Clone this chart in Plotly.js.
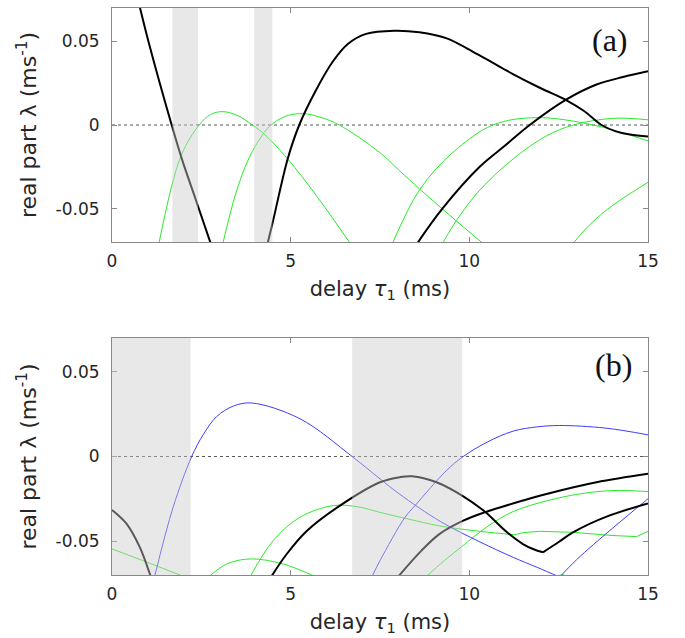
<!DOCTYPE html>
<html>
<head>
<meta charset="utf-8">
<script src="https://cdn.plot.ly/plotly-3.0.1.min.js"></script>
<style>html,body{margin:0;padding:0;background:#fff;}#chart{width:685px;height:638px;}</style>
</head>
<body>
<div id="chart"></div>
<script>
// ---------- axis ticks ----------
const xTickVals = [0, 5, 10, 15];
const xTickText = ["0", "5", "10", "15"];
const yTickVals = [-0.05, 0, 0.05];
const yTickText = ["-0.05", "0", "0.05"];

// ---------- shaded delay intervals ----------
const aShadeStart = [1.69, 3.98];
const aShadeEnd   = [2.41, 4.49];
const bShadeStart = [0.0, 6.72];
const bShadeEnd   = [2.2, 9.8];

// ---------- panel (a) ----------
const a_k1_x = [0.74, 1.02, 1.67, 1.95, 2.35, 2.78];
const a_k1_y = [0.074, 0.050, 0.000, -0.020, -0.045, -0.072];
const a_k2_x = [4.33, 4.50, 4.92, 5.24, 5.70, 6.18, 6.60, 7.11, 7.90, 8.60, 9.35, 10.30, 11.22, 12.00, 12.72, 13.20, 13.70, 14.10, 14.50, 15.00];
const a_k2_y = [-0.073, -0.058, -0.020, 0.000, 0.0205, 0.038, 0.0485, 0.0545, 0.0564, 0.0555, 0.052, 0.0415, 0.0305, 0.022, 0.0148, 0.0085, 0.000, -0.0038, -0.0057, -0.0069];
const a_k3_x = [8.53, 9.24, 10.29, 11.00, 11.69, 12.72, 13.56, 14.30, 15.00];
const a_k3_y = [-0.0712, -0.0502, -0.025, -0.0123, 0.000, 0.0153, 0.0242, 0.0287, 0.0321];
const a_g1_x = [1.31, 1.93, 2.44, 2.75, 3.09, 3.50, 3.93, 4.24, 4.92, 5.71, 6.68];
const a_g1_y = [-0.0712, -0.0185, 0.000, 0.0062, 0.008, 0.0058, 0.000, -0.0051, -0.0204, -0.042, -0.0712];
const a_g2_x = [3.10, 3.45, 3.84, 4.26, 4.45, 4.85, 5.34, 5.85, 6.36, 7.49, 8.05, 8.61, 9.45, 10.40];
const a_g2_y = [-0.0712, -0.042, -0.0194, -0.0045, 0.000, 0.0052, 0.0068, 0.0045, 0.000, -0.0164, -0.0274, -0.0383, -0.054, -0.0712];
const a_g3_x = [7.84, 8.61, 9.54, 10.66, 11.88, 13.47, 15.00];
const a_g3_y = [-0.0712, -0.0387, -0.0164, 0.000, 0.0044, 0.000, -0.0095];
const a_g4_x = [9.24, 9.64, 10.29, 11.22, 12.16, 12.91, 14.03, 15.00];
const a_g4_y = [-0.0712, -0.0571, -0.039, -0.0204, -0.0065, 0.000, 0.004, 0.0031];
const a_g5_x = [12.89, 13.40, 14.03, 15.00];
const a_g5_y = [-0.0712, -0.059, -0.0478, -0.0343];

// ---------- panel (b) ----------
const b_k1_x = [0.00, 0.41, 0.78, 1.06, 1.09];
const b_k1_y = [-0.0316, -0.0398, -0.0537, -0.0694, -0.0712];
const b_k2a_x = [4.45, 4.89, 5.45, 6.38, 7.50, 8.06, 8.40, 9.08, 9.83, 10.43, 11.04, 11.50, 11.80, 12.06];
const b_k2a_y = [-0.0712, -0.0576, -0.044, -0.029, -0.0152, -0.0122, -0.0117, -0.0152, -0.0235, -0.0325, -0.0445, -0.0517, -0.0548, -0.0566];
const b_k2b_x = [12.06, 12.50, 12.90, 13.84, 15.00];
const b_k2b_y = [-0.0566, -0.0505, -0.0448, -0.0355, -0.0278];
const b_k3_x = [8.00, 8.66, 9.17, 9.83, 10.43, 11.50, 12.16, 13.56, 15.00];
const b_k3_y = [-0.0712, -0.0556, -0.0457, -0.0379, -0.033, -0.026, -0.0221, -0.0152, -0.0102];
const b_b1a_x = [1.19, 1.71, 2.23, 2.55, 2.93, 3.40, 3.91, 5.26, 6.72, 7.50, 8.04, 9.20, 10.30, 11.23, 11.90, 12.53];
const b_b1a_y = [-0.0712, -0.030, 0.000, 0.0128, 0.0236, 0.0298, 0.0316, 0.0223, 0.000, -0.0132, -0.0221, -0.0385, -0.0505, -0.0596, -0.0655, -0.0712];
const b_b1b_x = [12.53, 13.00, 14.00, 15.00];
const b_b1b_y = [-0.0712, -0.061, -0.0425, -0.025];
const b_b2_x = [7.27, 7.50, 8.20, 8.48, 9.36, 9.83, 10.50, 11.23, 11.90, 12.53, 13.80, 15.00];
const b_b2_y = [-0.0712, -0.0615, -0.0359, -0.029, -0.0083, 0.000, 0.0085, 0.0150, 0.0175, 0.0183, 0.0168, 0.0128];
const b_g1_x = [0.00, 1.00, 1.97];
const b_g1_y = [-0.0546, -0.0626, -0.0706];
const b_g2_x = [2.70, 3.21, 3.88, 4.79, 5.72];
const b_g2_y = [-0.0712, -0.0635, -0.0605, -0.0635, -0.0712];
const b_g3a_x = [3.86, 4.51, 5.26, 6.19, 6.90, 7.50, 8.30, 9.17, 10.29, 11.27];
const b_g3a_y = [-0.0712, -0.0497, -0.0359, -0.029, -0.0298, -0.033, -0.037, -0.041, -0.0442, -0.0462];
const b_g3b_x = [11.27, 11.50, 11.97, 12.90, 14.02, 14.68, 15.00];
const b_g3b_y = [-0.0462, -0.045, -0.0442, -0.0448, -0.0467, -0.0473, -0.0442];
const b_g4_x = [8.78, 9.30, 9.83, 10.50, 11.23, 12.20, 13.09, 14.02, 15.00];
const b_g4_y = [-0.0712, -0.0615, -0.0525, -0.0415, -0.0325, -0.026, -0.0221, -0.0201, -0.0207];
const b_g5_x = [12.40, 12.60, 12.80];
const b_g5_y = [-0.0715, -0.0698, -0.0715];

const BLACK = '#000000', GREEN = 'rgb(40,235,40)', BLUE = 'rgb(60,60,255)';

function tr(x, y, color, width, ax, shape) {
  return {x: x, y: y, type: 'scatter', mode: 'lines', hoverinfo: 'skip', showlegend: false,
          xaxis: ax === 1 ? 'x' : 'x2', yaxis: ax === 1 ? 'y' : 'y2',
          line: {color: color, width: width, shape: shape || 'spline', smoothing: 1}};
}

const traces = [
  tr(a_g1_x, a_g1_y, GREEN, 1, 1), tr(a_g2_x, a_g2_y, GREEN, 1, 1), tr(a_g3_x, a_g3_y, GREEN, 1, 1),
  tr(a_g4_x, a_g4_y, GREEN, 1, 1), tr(a_g5_x, a_g5_y, GREEN, 1, 1),
  tr(a_k1_x, a_k1_y, BLACK, 2, 1), tr(a_k2_x, a_k2_y, BLACK, 2, 1), tr(a_k3_x, a_k3_y, BLACK, 2, 1),
  tr(b_g1_x, b_g1_y, GREEN, 1, 2), tr(b_g2_x, b_g2_y, GREEN, 1, 2), tr(b_g3a_x, b_g3a_y, GREEN, 1, 2),
  tr(b_g3b_x, b_g3b_y, GREEN, 1, 2, 'linear'), tr(b_g4_x, b_g4_y, GREEN, 1, 2), tr(b_g5_x, b_g5_y, GREEN, 1, 2),
  tr(b_b1a_x, b_b1a_y, BLUE, 1, 2), tr(b_b1b_x, b_b1b_y, BLUE, 1, 2), tr(b_b2_x, b_b2_y, BLUE, 1, 2),
  tr(b_k1_x, b_k1_y, BLACK, 2, 2), tr(b_k2a_x, b_k2a_y, BLACK, 2, 2), tr(b_k2b_x, b_k2b_y, BLACK, 2, 2),
  tr(b_k3_x, b_k3_y, BLACK, 2, 2)
];

const shapes = [];
function addShades(starts, ends, xr, yr) {
  for (let i = 0; i < starts.length; i++) {
    shapes.push({type: 'rect', xref: xr, yref: yr + ' domain', x0: starts[i], x1: ends[i], y0: 0, y1: 1,
                 fillcolor: 'rgba(203,203,203,0.44)', line: {width: 0}, layer: 'above'});
  }
}
shapes.push({type: 'line', xref: 'x domain', yref: 'y', x0: 0, x1: 1, y0: 0, y1: 0,
             line: {color: '#555', width: 1, dash: 'dot'}, layer: 'below'});
shapes.push({type: 'line', xref: 'x2 domain', yref: 'y2', x0: 0, x1: 1, y0: 0, y1: 0,
             line: {color: '#555', width: 1, dash: 'dot'}, layer: 'below'});
addShades(aShadeStart, aShadeEnd, 'x', 'y');
addShades(bShadeStart, bShadeEnd, 'x2', 'y2');

const tickFont = {family: 'DejaVu Sans', size: 17, color: '#262626'};
const xTitleFont = {family: 'DejaVu Sans', size: 21, color: '#262626'};
const yTitleFont = {family: 'DejaVu Sans', size: 22, color: '#262626'};
function xAxis(anchor) {
  return {anchor: anchor, domain: [0, 1], range: [0, 15], tickvals: xTickVals, ticktext: xTickText,
          ticks: 'inside', ticklen: 5, tickcolor: '#888', showline: true, linecolor: '#888', linewidth: 1,
          mirror: 'ticks', showgrid: false, zeroline: false, tickfont: tickFont, ticklabelstandoff: 4,
          title: {text: 'delay <i>τ</i><sub>1</sub> (ms)', font: xTitleFont, standoff: 10}};
}
function yAxis(anchor, dom) {
  return {anchor: anchor, domain: dom, range: [-0.07, 0.07], tickvals: yTickVals, ticktext: yTickText,
          ticks: 'inside', ticklen: 5, tickcolor: '#888', showline: true, linecolor: '#888', linewidth: 1,
          mirror: 'ticks', showgrid: false, zeroline: false, tickfont: tickFont, ticklabelstandoff: 8,
          title: {text: 'real part λ (ms<sup>-1</sup>)', font: yTitleFont, standoff: 12}};
}

const layout = {
  width: 685, height: 638, showlegend: false,
  paper_bgcolor: '#fff', plot_bgcolor: '#fff',
  margin: {l: 112, r: 37, t: 8, b: 63},
  xaxis: xAxis('y'), yaxis: yAxis('x', [0.5873, 1]),
  xaxis2: xAxis('y2'), yaxis2: yAxis('x2', [0, 0.418]),
  shapes: shapes,
  annotations: [
    {xref: 'x', yref: 'y', x: 13.93, y: 0.051, text: '(a)', showarrow: false,
     font: {family: 'Liberation Serif', size: 32, color: '#111'}},
    {xref: 'x2', yref: 'y2', x: 14.04, y: 0.054, text: '(b)', showarrow: false,
     font: {family: 'Liberation Serif', size: 32, color: '#111'}}
  ]
};

Plotly.newPlot('chart', traces, layout, {staticPlot: true, displayModeBar: false});
</script>
</body>
</html>
